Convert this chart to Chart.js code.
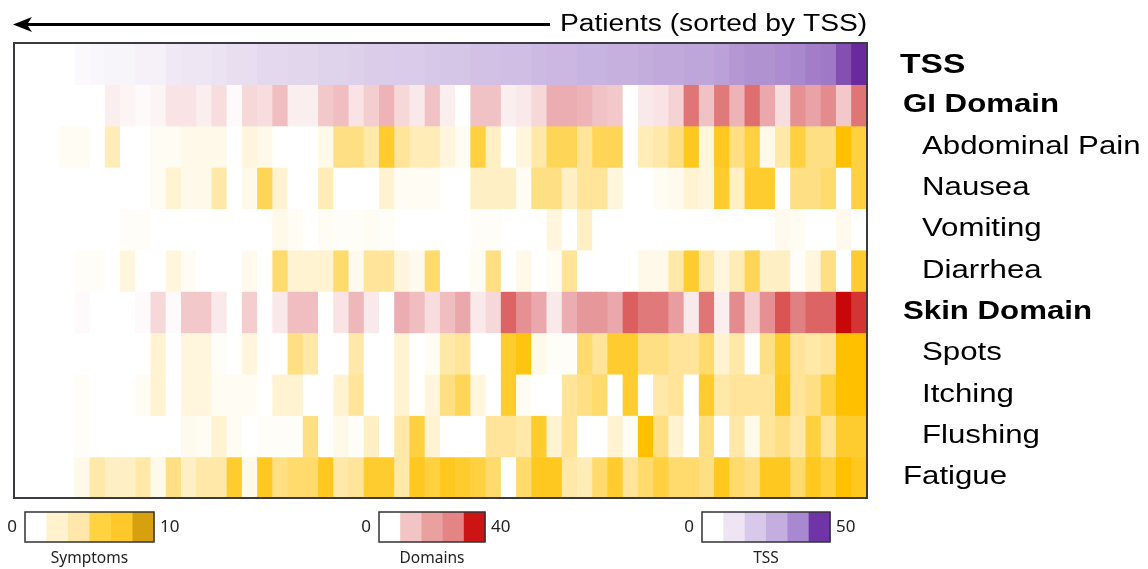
<!DOCTYPE html>
<html>
<head>
<meta charset="utf-8">
<script src="https://cdn.jsdelivr.net/npm/chart.js@4"></script>
<style>
  html, body { margin: 0; padding: 0; background: #fff; }
  #wrap { width: 1148px; height: 569px; }
</style>
</head>
<body>
<div id="wrap"><canvas id="heat" width="1148" height="569"></canvas></div>
<script>
// rows top to bottom
var rowLabels = ['TSS', 'GI Domain', 'Abdominal Pain', 'Nausea', 'Vomiting', 'Diarrhea',
                 'Skin Domain', 'Spots', 'Itching', 'Flushing', 'Fatigue'];

// one value per patient, patients sorted by TSS (low -> high)
var tss = [0,0,0,0,2,3,4,4,5,5,8,9,9,10, 12,12,14,14,15,15,16,16,17,18,18,19,19,20,
           21,21,22,22,23,23,24,25,25,26,26,27,27,28, 29,29,30,30,31,33,34,34,35,36,38,39,45,50];
var giDomain = [0,0,0,0,0,0,3,2,1,2,5,5,3,6, 1,7,6,12,3,3,10,12,5,9,14,7,4,11,
                3,0,11,11,3,4,7,15,15,14,11,10,0,4, 5,8,25,11,24,14,26,16,6,20,17,21,10,25];
var abdominalPain = [0,0,0,0.5,0.5,0,3,0,0,0.5,0.5,1,1,1, 0,1.5,1,0,0,0,1,4.5,4.5,3.5,6.5,4,3,3,
                     1.5,0.5,6,2.5,0,1.5,3.5,5.5,5.5,4,5.5,5.5,0,3, 3.5,4.5,7,1.5,7,4.5,6,1,3.5,6,4.5,4.5,8,6];
var nausea = [0,0,0,0,0,0,0,0,0,0.5,2,1,1,3.5, 0,1,5.5,2,0,0,3,0,0,0,2,0.5,0.5,0.5,
              0,0,2.5,2.5,2.5,0.5,4.5,4.5,2.5,4,4,1.5,0,0, 0.5,0.8,2,1.5,6.5,2.5,6.5,6.5,0,4.5,4.5,5,0,6];
var vomiting = [0,0,0,0,0,0,0,0.3,0.3,0,0,0,0,0, 0,0,0,1,0.5,0,0.5,0.3,0.3,0.5,0.3,0,0,0,
                0,0,0.3,0.3,0,0,0,1.5,0,2.5,0,0,0,0, 0,0,0,0,0,0,0,0,0.8,0.5,0,0,0.8,0];
var diarrhea = [0,0,0,0,0.3,0.3,0,1.5,0,0,1.5,0.5,0,0, 0,0.8,0,5,2,2,2,5,0.8,4,4,1.5,0.8,5,
                0,0,0.5,4.5,0,1,0,0.5,4,0,0,0,0,1, 1,3.5,6.5,3.5,1.5,3,5.5,2.5,2.5,0.3,1.5,4.5,0,6.5];
var skinDomain = [0,0,0,0,1,0,0,0,1,7,1,10,10,4, 0,9,0,4,12,12,0,5,13,4,0,15,12,6,
                  12,16,4,7,28,20,16,4,15,19,19,16,29,24, 24,18,4,25,3,21,9,20,31,23,28,28,40,35];
var spots = [0,0,0,0,0,0,0,0,0,2,0,1.5,1.5,0.3, 0,1.5,0,0,4.5,3.5,0,0,3.5,0,0,2,0,0.5,
             3.5,4,0,0,6.5,7.5,1,0.3,0.3,5,4,6.5,6.5,4.5, 4.5,4,4,5,2,3.5,0.3,4.5,6.5,4,3.5,4,8,8];
var itching = [0,0,0,0,0.3,0,0,0,0.5,2,0,1.5,1.5,0.5, 0.5,0.5,0,2,2,0,0,2,4,0,0,2,0,1.5,
               4.5,5.5,1.5,0,6.5,0.5,0,0,4,4.5,5,0,6.5,0, 3.5,4,0,6.5,3.5,4,4,4,7,4,4.5,6,8,8];
var flushing = [0,0,0,0,0.3,0,0,0,0,0,0,0.8,0.5,2, 0.5,0,0.3,0.3,0.3,4.5,0,1,0.3,2.5,0,3.5,6,2,
                0,0,0,4,4,3.5,6.5,2,4,0,0,2,0.5,8, 4.5,2,0,4.5,0,3.5,1,4,4.5,3.5,6,4,6.5,6.5];
var fatigue = [0,0,0,0,1,3.5,2.5,2.5,3.5,1,4.5,2.5,3.5,3.5, 6.5,1,7,4.5,5,5,7,3.5,4,6.5,6.5,3.5,7,6,
               7,6.5,6,5,0,5,7,7,3.5,3,5,6.5,4,5, 6,5,5,4.5,7,5,4.5,7,7,5,7,6,8,7];

var patients = tss.map(function (v, i) { return 'Patient ' + (i + 1); });

// colour scales (value, colour)
var symptomStops = [[0, '#FFFFFF'], [2, '#FFF3D2'], [4, '#FFE49A'], [6, '#FFD040'], [8, '#FFC000'], [10, '#D4A000']];
var domainStops = [[0, '#FFFFFF'], [8, '#F5D2D4'], [16, '#EAA8AC'], [24, '#E07A7A'], [32, '#DA4E4E'], [40, '#C80808']];
var tssStops = [[0, '#FFFFFF'], [10, '#ECE3F2'], [20, '#D7C8E8'], [30, '#BEA6DA'], [40, '#9C74C4'], [50, '#6A2A9E']];

var rowValues = [tss, giDomain, abdominalPain, nausea, vomiting, diarrhea, skinDomain, spots, itching, flushing, fatigue];
var rowStops = [tssStops, domainStops, symptomStops, symptomStops, symptomStops, symptomStops,
                domainStops, symptomStops, symptomStops, symptomStops, symptomStops];
var rowBold = [true, true, false, false, false, false, true, false, false, false, false];
var rowIndent = [33, 36, 55, 55, 55, 55, 36, 55, 55, 55, 36];

function hexToRgb(h) {
    var n = parseInt(h.slice(1), 16);
    return [(n >> 16) & 255, (n >> 8) & 255, n & 255];
}

function colorAt(stops, v) {
    for (var i = 1; i < stops.length; i++) {
        if (v <= stops[i][0]) {
            var t = (v - stops[i - 1][0]) / (stops[i][0] - stops[i - 1][0]);
            var a = hexToRgb(stops[i - 1][1]), b = hexToRgb(stops[i][1]);
            return 'rgb(' + Math.round(a[0] + (b[0] - a[0]) * t) + ',' +
                Math.round(a[1] + (b[1] - a[1]) * t) + ',' +
                Math.round(a[2] + (b[2] - a[2]) * t) + ')';
        }
    }
    return stops[stops.length - 1][1];
}

// legend colour bars
var legendBars = [
    { title: 'Symptoms', min: '0', max: '10', x0: 25, x1: 154,
      colors: ['#FFFFFF', '#FFF2CC', '#FFE7AC', '#FFD23F', '#FFC82A', '#D6A00E'] },
    { title: 'Domains', min: '0', max: '40', x0: 379, x1: 485,
      colors: ['#FFFFFF', '#F2C4C4', '#EBA0A0', '#E48484', '#CC1414'] },
    { title: 'TSS', min: '0', max: '50', x0: 702, x1: 830,
      colors: ['#FFFFFF', '#EEE4F4', '#D8C8EA', '#C4AEE0', '#A888D0', '#6E34A8'] }
];

function stretchText(ctx, text, x, y, sx) {
    ctx.save();
    ctx.translate(x, y);
    ctx.scale(sx, 1);
    ctx.fillText(text, 0, 0);
    ctx.restore();
}

var decor = {
    id: 'decor',
    afterDraw: function (chart) {
        var ctx = chart.ctx;
        var area = chart.chartArea;
        var yScale = chart.scales.y;

        // frame
        ctx.save();
        ctx.strokeStyle = '#3a3a42';
        ctx.lineWidth = 2;
        ctx.strokeRect(area.left, area.top, area.right - area.left, area.bottom - area.top);

        // arrow + title
        ctx.strokeStyle = '#000';
        ctx.fillStyle = '#000';
        ctx.lineWidth = 3;
        ctx.beginPath();
        ctx.moveTo(26, 24.5);
        ctx.lineTo(550, 24.5);
        ctx.stroke();
        ctx.beginPath();
        ctx.moveTo(13, 24.5);
        ctx.lineTo(32, 17);
        ctx.lineTo(27, 24.5);
        ctx.lineTo(32, 32);
        ctx.closePath();
        ctx.fill();

        ctx.font = '23.5px "Liberation Sans", Arial, sans-serif';
        ctx.textBaseline = 'alphabetic';
        ctx.textAlign = 'left';
        stretchText(ctx, 'Patients (sorted by TSS)', 560, 31, 1.2);

        // row labels
        ctx.textBaseline = 'middle';
        rowLabels.forEach(function (lab, k) {
            var yc = yScale.getPixelForValue(k + 0.5) + (k === 0 ? 2 : 0);
            var size = k === 0 ? 28 : 26;
            ctx.font = (rowBold[k] ? 'bold ' : '') + size + 'px "Liberation Sans", Arial, sans-serif';
            stretchText(ctx, lab, area.right + rowIndent[k], yc, 1.2);
        });

        // legends
        legendBars.forEach(function (lg) {
            var top = 512, h = 30;
            var w = (lg.x1 - lg.x0) / lg.colors.length;
            lg.colors.forEach(function (c, i) {
                ctx.fillStyle = c;
                ctx.fillRect(lg.x0 + i * w, top, w + 0.5, h);
            });
            ctx.strokeStyle = '#333';
            ctx.lineWidth = 1.5;
            ctx.strokeRect(lg.x0, top, lg.x1 - lg.x0, h);
            ctx.fillStyle = '#222';
            ctx.font = '17px "Noto Sans", sans-serif';
            ctx.textBaseline = 'middle';
            ctx.textAlign = 'right';
            ctx.fillText(lg.min, lg.x0 - 8, top + h / 2);
            ctx.textAlign = 'left';
            ctx.fillText(lg.max, lg.x1 + 6, top + h / 2);
            ctx.font = '15.5px "Noto Sans", sans-serif';
            ctx.textAlign = 'center';
            ctx.fillText(lg.title, (lg.x0 + lg.x1) / 2, 559);
        });
        ctx.restore();
    }
};

var datasets = rowLabels.map(function (lab, k) {
    return {
        label: lab,
        // every cell is one unit tall; the value is shown by its colour
        data: rowValues[k].map(function () { return 1; }),
        backgroundColor: rowValues[k].map(function (v) { return colorAt(rowStops[k], v); }),
        borderWidth: 0,
        inflateAmount: 0.6,
        categoryPercentage: 1,
        barPercentage: 1,
        stack: 'grid'
    };
});

new Chart(document.getElementById('heat'), {
    type: 'bar',
    data: { labels: patients, datasets: datasets },
    options: {
        responsive: false,
        devicePixelRatio: 1,
        animation: false,
        layout: { padding: { left: 14, top: 43, right: 281, bottom: 71 } },
        plugins: { legend: { display: false }, tooltip: { enabled: false }, title: { display: false } },
        scales: {
            x: { display: false, stacked: true },
            y: { display: false, stacked: true, min: 0, max: rowLabels.length, reverse: true }
        }
    },
    plugins: [decor]
});
</script>
</body>
</html>
